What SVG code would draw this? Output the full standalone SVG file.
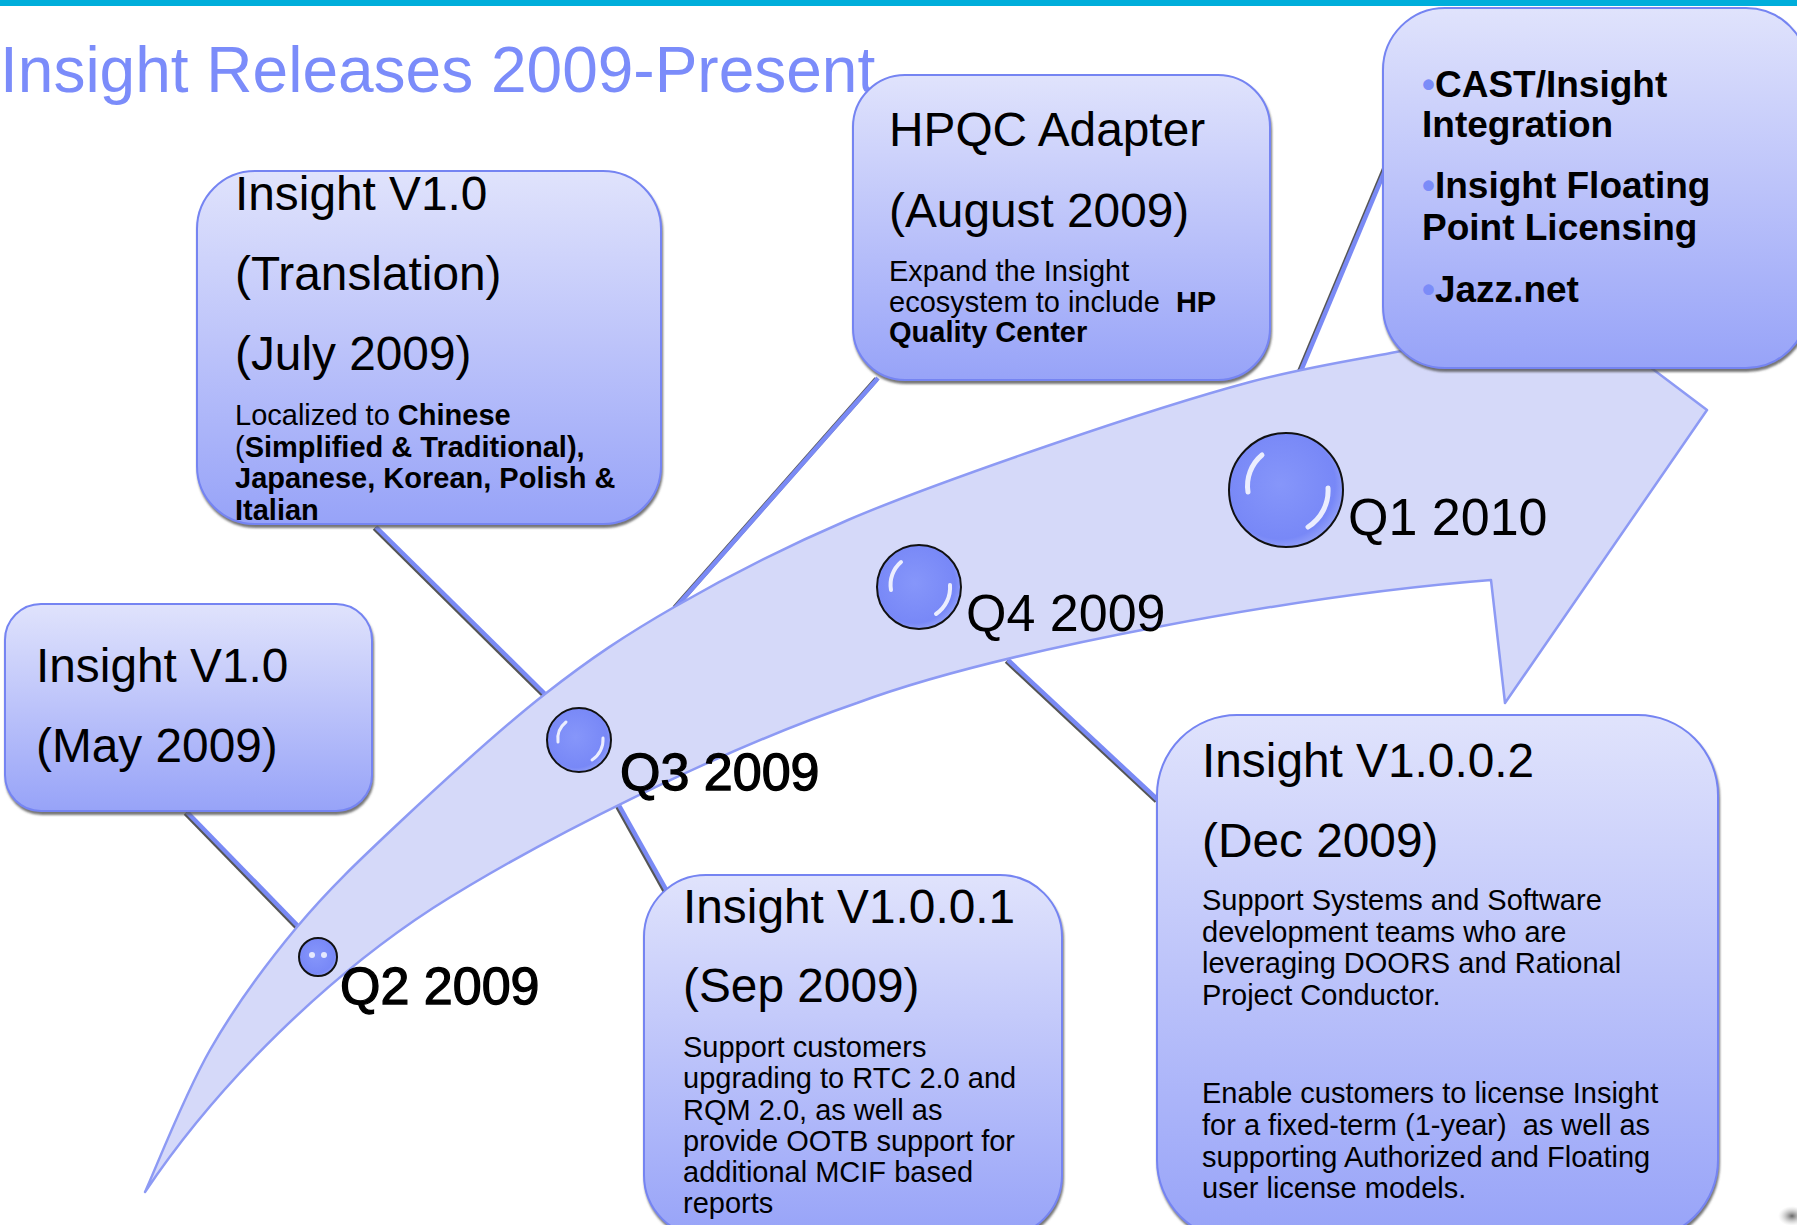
<svg xmlns="http://www.w3.org/2000/svg" width="1797" height="1225" viewBox="0 0 1797 1225">
<defs>
<linearGradient id="boxg" x1="0" y1="0" x2="0" y2="1">
<stop offset="0" stop-color="#E0E3FC"/>
<stop offset="0.5" stop-color="#BCC3FA"/>
<stop offset="1" stop-color="#97A3F8"/>
</linearGradient>
<radialGradient id="ballg" cx="0.45" cy="0.45" r="0.6">
<stop offset="0" stop-color="#8696FA"/>
<stop offset="0.8" stop-color="#7888F7"/>
<stop offset="1" stop-color="#9AA7FA"/>
</radialGradient>
<radialGradient id="blobg" cx="0.5" cy="0.5" r="0.5">
<stop offset="0" stop-color="#666"/>
<stop offset="1" stop-color="#ccc" stop-opacity="0"/>
</radialGradient>
<filter id="sh" x="-5%" y="-5%" width="110%" height="115%">
<feDropShadow dx="1" dy="3" stdDeviation="1" flood-color="#555" flood-opacity="0.8"/>
</filter>
</defs>
<style>
text{font-family:"Liberation Sans",Arial,sans-serif;fill:#000}
.box{fill:url(#boxg);stroke:#7584F2;stroke-width:2;filter:url(#sh)}
.h{font-size:47.8px}
.s{font-size:29px}
.bl{font-size:37px;font-weight:bold}
.bold{font-weight:bold}
.dot{fill:#7B8CF8;font-weight:bold}
.q{font-size:52px}
.qb{stroke:#000;stroke-width:1.3}
.cs{stroke:#555;stroke-width:5;stroke-linecap:butt}
.cl{stroke:#7A8AF5;stroke-width:4.5;stroke-linecap:butt}
.ball{fill:url(#ballg);stroke:#111;stroke-width:2}
.hl{fill:none;stroke:#fff;stroke-linecap:round;opacity:0.85}
</style>
<rect x="0" y="0" width="1797" height="6" fill="#00AEDB"/>
<text x="0" y="92" style="font-size:64px;fill:#7B8CFA">Insight Releases 2009-Present</text>

<g id="connectors">
<line class="cs" x1="185.5" y1="813" x2="296.5" y2="927"/>
<line class="cl" x1="187" y1="812" x2="298" y2="926"/>
<line class="cs" x1="374.5" y1="528" x2="543.5" y2="695"/>
<line class="cl" x1="376" y1="527" x2="545" y2="694"/>
<line class="cs" x1="876.5" y1="379" x2="674.5" y2="608"/>
<line class="cl" x1="878" y1="378" x2="676" y2="607"/>
<line class="cs" x1="1384.5" y1="168.5" x2="1296.5" y2="378.5"/>
<line class="cl" x1="1386" y1="168" x2="1298" y2="378"/>
<line class="cs" x1="666.5" y1="894" x2="614.5" y2="801"/>
<line class="cl" x1="668" y1="893" x2="616" y2="800"/>
<line class="cs" x1="1006.5" y1="661" x2="1156.5" y2="801"/>
<line class="cl" x1="1008" y1="660" x2="1158" y2="800"/>
</g>

<g id="arrow">
<path d="M145,1192 C155.8,1168.3 184.7,1094.2 210,1050 C235.3,1005.8 265.3,965 297,927 C328.7,889 358.7,860.8 400,822 C441.3,783.2 499,730 545,694 C591,658 625.5,635 676,606 C726.5,577 785.7,546.8 848,520 C910.3,493.2 983,468 1050,445 C1117,422 1192.3,397.5 1250,382 C1307.7,366.5 1371.7,357 1396,352 L1585,318 L1707,410 L1505,703 L1491,580 C1300,595 1000,650 857,703 C720,750 540,840 433,908 C330,975 220,1080 145,1192 Z" fill="#D5D9F9" stroke="#8D9AF4" stroke-width="2.5" stroke-linejoin="round"/>
</g>

<g id="q2">
<circle class="ball" cx="318" cy="957" r="19"/>
<circle cx="312" cy="955" r="3" fill="#fff" opacity="0.8"/>
<circle cx="324" cy="955" r="3" fill="#fff" opacity="0.8"/>
<text class="q qb" x="340" y="1004">Q2 2009</text>
</g>
<g id="q3">
<circle class="ball" cx="579" cy="740" r="32"/>
<path class="hl" stroke-width="3" d="M558,742 A22,22 0 0 1 566,722"/>
<path class="hl" stroke-width="3" d="M603,738 A24,24 0 0 1 592,760"/>
<text class="q qb" x="620" y="790">Q3 2009</text>
</g>
<g id="q4">
<circle class="ball" cx="919" cy="587" r="42"/>
<path class="hl" stroke-width="4" d="M891,590 A30,30 0 0 1 901,562"/>
<path class="hl" stroke-width="4" d="M950,585 A32,32 0 0 1 936,614"/>
<text class="q" x="966" y="631">Q4 2009</text>
</g>
<g id="q1">
<circle class="ball" cx="1286" cy="490" r="57"/>
<path class="hl" stroke-width="5" d="M1248,492 A40,40 0 0 1 1262,455"/>
<path class="hl" stroke-width="5" d="M1328,488 A43,43 0 0 1 1308,527"/>
<text class="q" x="1348" y="535">Q1 2010</text>
</g>

<g id="node-may">
<rect class="box" x="5" y="604" width="367" height="207" rx="36"/>
<text class="h" x="36" y="682">Insight V1.0</text>
<text class="h" x="36" y="762">(May 2009)</text>
</g>

<g id="node-july">
<rect class="box" x="197" y="171" width="464" height="353" rx="58"/>
<text class="h" x="235" y="210">Insight V1.0</text>
<text class="h" x="235" y="290">(Translation)</text>
<text class="h" x="235" y="370">(July 2009)</text>
<text class="s" x="235" y="425">Localized to <tspan class="bold">Chinese</tspan></text>
<text class="s" x="235" y="456.5">(<tspan class="bold">Simplified &amp; Traditional),</tspan></text>
<text class="s bold" x="235" y="488">Japanese, Korean, Polish &amp;</text>
<text class="s bold" x="235" y="519.5">Italian</text>
</g>

<g id="node-hpqc">
<rect class="box" x="853" y="75" width="417" height="305" rx="52"/>
<text class="h" x="889" y="146">HPQC Adapter</text>
<text class="h" x="889" y="227">(August 2009)</text>
<text class="s" x="889" y="281">Expand the Insight</text>
<text class="s" x="889" y="312" xml:space="preserve">ecosystem to include  <tspan class="bold">HP</tspan></text>
<text class="s bold" x="889" y="342">Quality Center</text>
</g>

<g id="node-q1">
<rect class="box" x="1383" y="8" width="425" height="360" rx="62"/>
<text class="bl" x="1422" y="97"><tspan class="dot">•</tspan>CAST/Insight</text>
<text class="bl" x="1422" y="137">Integration</text>
<text class="bl" x="1422" y="198"><tspan class="dot">•</tspan>Insight Floating</text>
<text class="bl" x="1422" y="240">Point Licensing</text>
<text class="bl" x="1422" y="302"><tspan class="dot">•</tspan>Jazz.net</text>
</g>

<g id="node-sep">
<rect class="box" x="644" y="875" width="418" height="362" rx="62"/>
<text class="h" x="683" y="923">Insight V1.0.0.1</text>
<text class="h" x="683" y="1002">(Sep 2009)</text>
<text class="s" x="683" y="1057">Support customers</text>
<text class="s" x="683" y="1088">upgrading to RTC 2.0 and</text>
<text class="s" x="683" y="1120">RQM 2.0, as well as</text>
<text class="s" x="683" y="1151">provide OOTB support for</text>
<text class="s" x="683" y="1182">additional MCIF based</text>
<text class="s" x="683" y="1213">reports</text>
</g>

<g id="node-dec">
<rect class="box" x="1157" y="715" width="561" height="525" rx="80"/>
<text class="h" x="1202" y="777">Insight V1.0.0.2</text>
<text class="h" x="1202" y="857">(Dec 2009)</text>
<text class="s" x="1202" y="910">Support Systems and Software</text>
<text class="s" x="1202" y="942">development teams who are</text>
<text class="s" x="1202" y="973">leveraging DOORS and Rational</text>
<text class="s" x="1202" y="1005">Project Conductor.</text>
<text class="s" x="1202" y="1103">Enable customers to license Insight</text>
<text class="s" x="1202" y="1135" xml:space="preserve">for a fixed-term (1-year)  as well as</text>
<text class="s" x="1202" y="1167">supporting Authorized and Floating</text>
<text class="s" x="1202" y="1198">user license models.</text>
</g>

<ellipse cx="1792" cy="1216" rx="14" ry="10" fill="url(#blobg)"/>
</svg>
